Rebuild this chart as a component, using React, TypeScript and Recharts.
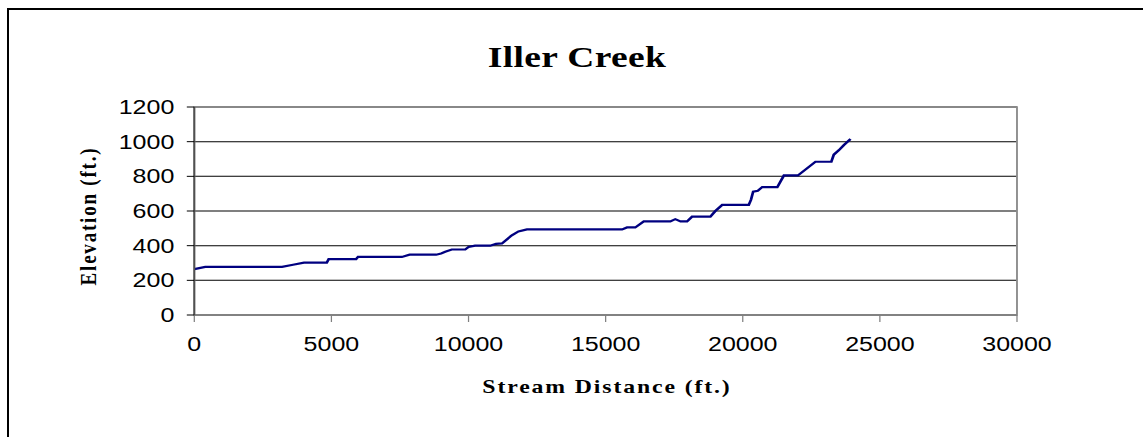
import React from 'react';
import { LineChart, Line, XAxis, YAxis, CartesianGrid, ReferenceArea } from 'recharts';

const distance = [
  0, 400, 3200, 3600, 4000, 4830, 4900, 5900, 5970, 7570, 7850, 8820, 9000, 9150,
  9390, 9880, 10000, 10240, 10790, 11000, 11220, 11580, 11820, 12130, 15600, 15780,
  16080, 16390, 17360, 17540, 17730, 17970, 18150, 18820, 19000, 19250, 20220, 20300,
  20380, 20550, 20710, 21260, 21500, 22010, 22650, 23230, 23320, 23500, 23690, 23930,
];
const elevation = [
  265, 278, 278, 290, 302, 302, 322, 322, 335, 335, 348, 348, 355, 365,
  378, 378, 392, 400, 400, 410, 413, 460, 482, 494, 494, 505,
  505, 540, 540, 553, 540, 540, 567, 567, 600, 635, 635, 665,
  712, 717, 738, 738, 805, 805, 884, 884, 925, 950, 981, 1015,
];
const xTicks = [0, 5000, 10000, 15000, 20000, 25000, 30000];
const yTicks = [0, 200, 400, 600, 800, 1000, 1200];

const title = 'Iller Creek';
const xTitle = 'Stream Distance (ft.)';
const yTitle = 'Elevation (ft.)';

const data = distance.map((d, i) => ({ distance: d, elevation: elevation[i] }));

const S = 1.25;
const W = 1143 / S;
const H = 437;
const PLOT_RIGHT = 1017 / S;

const serif = '"Liberation Serif", "Times New Roman", serif';
const sans = '"Liberation Sans", Arial, sans-serif';

export default function App() {
  return (
    <>
      <style>{'html, body { overflow: hidden; }'}</style>
      <div style={{ position: 'absolute', left: 0, top: 0, width: 1180, height: 437, overflow: 'hidden', background: '#fff' }}>
        <svg width={1180} height={437} style={{ position: 'absolute', left: 0, top: 0 }}>
          <path d="M 8 437 L 8 9 L 1180 9" fill="none" stroke="#000" strokeWidth={2} />
        </svg>
        <div style={{ position: 'absolute', left: 0, top: 0, width: W, height: H, transform: `scaleX(${S})`, transformOrigin: '0 0' }}>
          <LineChart width={W} height={H} data={data} margin={{ top: 107, right: W - PLOT_RIGHT, bottom: 62, left: 0 }}>
            <CartesianGrid vertical={false} stroke="#000" strokeWidth={1} />
            <XAxis
              dataKey="distance"
              type="number"
              domain={[0, 30000]}
              ticks={xTicks}
              interval={0}
              height={60}
              tickSize={7}
              tickMargin={15}
              axisLine={{ stroke: '#808080', strokeWidth: 1.5 }}
              tickLine={{ stroke: '#808080' }}
              tick={{ fill: '#000', fontSize: 20, fontFamily: sans }}
            />
            <YAxis
              type="number"
              domain={[0, 1200]}
              ticks={yTicks}
              interval={0}
              width={194.3 / S}
              tickSize={6}
              tickMargin={10}
              axisLine={{ stroke: '#505050', strokeWidth: 1.5 }}
              tickLine={{ stroke: '#000' }}
              tick={{ fill: '#000', fontSize: 20, fontFamily: sans }}
            />
            <ReferenceArea x1={0} x2={30000} y1={0} y2={1200} fill="none" fillOpacity={0} stroke="#8c8c8c" strokeWidth={1.5} />
            <Line
              type="linear"
              dataKey="elevation"
              stroke="#000080"
              strokeWidth={2.2}
              dot={false}
              isAnimationActive={false}
            />
          </LineChart>
          <svg width={W} height={H} style={{ position: 'absolute', left: 0, top: 0, pointerEvents: 'none' }}>
            <text x={461.6} y={66.7} textAnchor="middle" fontFamily={serif} fontWeight="bold" fontSize={30} letterSpacing={0.3} fill="#000">
              {title}
            </text>
            <text x={485.6} y={393} textAnchor="middle" fontFamily={serif} fontWeight="bold" fontSize={19} letterSpacing={1.5} fill="#000">
              {xTitle}
            </text>
            <text
              x={0}
              y={0}
              transform="translate(77,216) rotate(-90)"
              textAnchor="middle"
              fontFamily={serif}
              fontWeight="bold"
              fontSize={19}
              letterSpacing={1.8}
              fill="#000"
            >
              {yTitle}
            </text>
          </svg>
        </div>
      </div>
    </>
  );
}
